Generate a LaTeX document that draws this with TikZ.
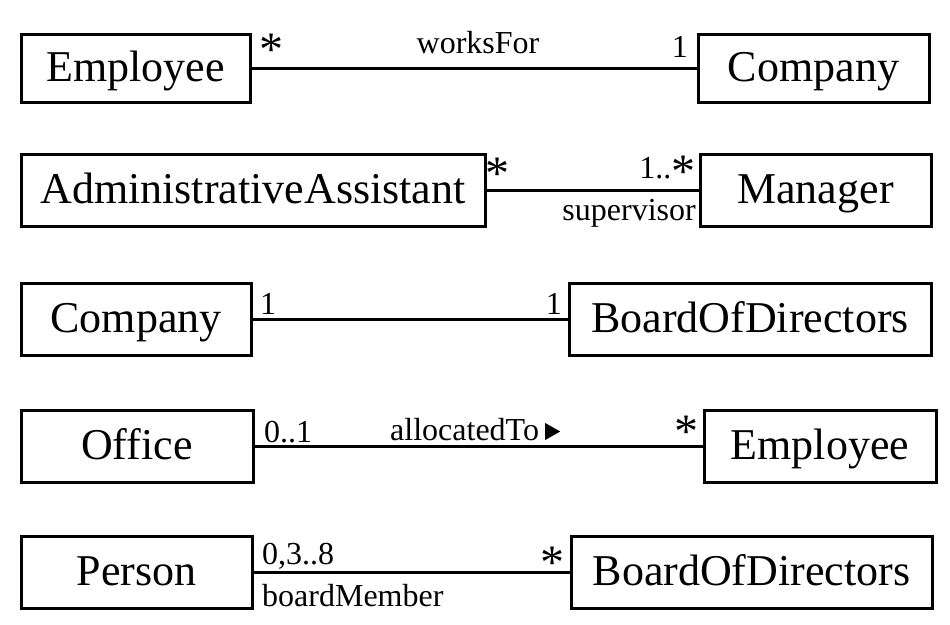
\documentclass[tikz,border=0pt]{standalone}
\usepackage{fontspec}
\setmainfont{Liberation Serif}
\begin{document}
\begin{tikzpicture}[x=1pt,y=-1pt,
  cls/.style={draw, line width=3pt, inner sep=0pt, minimum height=72pt,
    text height=32pt, text depth=6pt, font=\fontsize{44}{50}\selectfont},
  lbl/.style={inner sep=0pt, font=\fontsize{32}{36}\selectfont},
  mult/.style={inner sep=0pt, font=\fontsize{48}{52}\selectfont},
  assoc/.style={line width=3pt}]
\useasboundingbox (0,0) rectangle (950,624);
% row 1
\node[cls, minimum width=229pt, minimum height=68pt] (emp1) at (135.5,68) {Employee};
\node[cls, minimum width=231pt, minimum height=68pt] (comp1) at (813.5,68) {Company};
\draw[assoc] (emp1.east) -- (comp1.west);
\node[mult, anchor=base west] (r1a) at (259,65) {*};
\node[lbl, anchor=base] (r1n) at (478,53) {worksFor};
\node[lbl, anchor=base east] (r1b) at (688,57) {1};
% row 2
\node[cls, minimum width=464pt] (adm) at (253,190) {AdministrativeAssistant};
\node[cls, minimum width=231pt] (mgr) at (815.5,190) {Manager};
\draw[assoc] (adm.east) -- (mgr.west);
\node[mult, anchor=base west] (r2a) at (485,189) {*};
\node[mult, anchor=base east] (r2s) at (696,187) {*};
\node[lbl, anchor=base east] (r2b) at (r2s.base west |- 0,178) {1..};
\node[lbl, anchor=base east] (r2r) at (696,220) {supervisor};
% row 3
\node[cls, minimum width=230pt] (comp2) at (136,319) {Company};
\node[cls, minimum width=362pt] (bod1) at (750,319) {BoardOfDirectors};
\draw[assoc] (comp2.east) -- (bod1.west);
\node[lbl, anchor=base west] (r3a) at (260,314) {1};
\node[lbl, anchor=base east] (r3b) at (562,314) {1};
% row 4
\node[cls, minimum width=232pt] (off) at (137,446) {Office};
\node[cls, minimum width=232pt] (emp2) at (820,446) {Employee};
\draw[assoc] (off.east) -- (emp2.west);
\node[lbl, anchor=base west] (r4a) at (264,442) {0..1};
\node[lbl, anchor=base west] (r4n) at (390,440) {allocatedTo};
\fill ([xshift=6pt]r4n.base east) -- ++(0,-17) -- ++(15,8.5) -- cycle;
\node[mult, anchor=base east] (r4b) at (699,447) {*};
% row 5
\node[cls, minimum width=231pt] (pers) at (136.5,572) {Person};
\node[cls, minimum width=361pt] (bod2) at (751.5,572) {BoardOfDirectors};
\draw[assoc] (pers.east) -- (bod2.west);
\node[lbl, anchor=base west] (r5a) at (262,564) {0,3..8};
\node[lbl, anchor=base west] (r5r) at (262,606) {boardMember};
\node[mult, anchor=base east] (r5b) at (565,578) {*};
\end{tikzpicture}
\end{document}
